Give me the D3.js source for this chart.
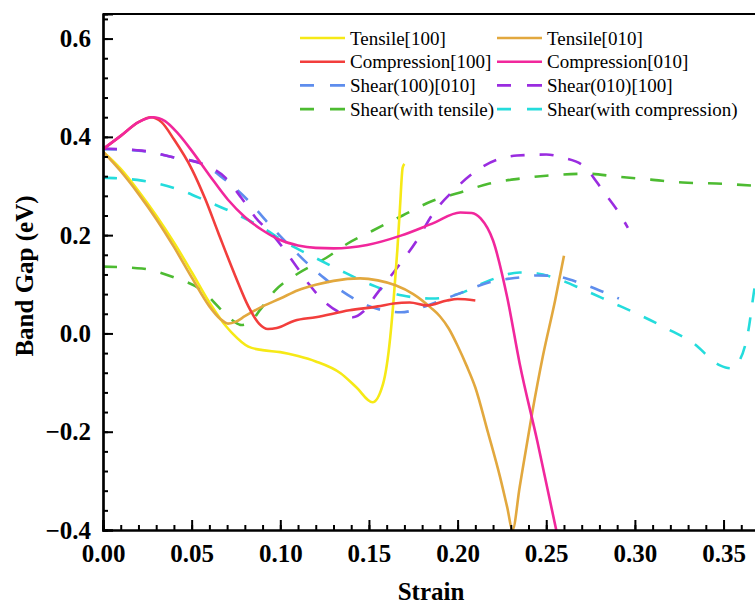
<!DOCTYPE html>
<html>
<head>
<meta charset="utf-8">
<script src="https://cdn.jsdelivr.net/npm/d3@7"></script>
<style>
  html, body { margin: 0; padding: 0; background: #fff; overflow: hidden; }
  svg { display: block; }
</style>
</head>
<body>
<svg id="chart" width="755" height="607"></svg>
<script>
// ---------------- data ----------------
const seriesNames = [
  "Tensile[100]", "Tensile[010]",
  "Compression[100]", "Compression[010]",
  "Shear(100)[010]", "Shear(010)[100]",
  "Shear(with tensile)", "Shear(with compression)"
];

const tensile100X = [0, 0.01, 0.02, 0.03, 0.04, 0.05, 0.06, 0.07, 0.073, 0.082, 0.09, 0.10, 0.11, 0.12, 0.134, 0.143, 0.152, 0.158, 0.162, 0.164, 0.166, 0.1675, 0.169, 0.170];
const tensile100Y = [0.37, 0.335, 0.29, 0.24, 0.185, 0.125, 0.063, 0.012, 0.0, -0.027, -0.034, -0.038, -0.046, -0.057, -0.081, -0.11, -0.14, -0.102, -0.008, 0.073, 0.169, 0.256, 0.337, 0.345];

const tensile010X = [0, 0.01, 0.02, 0.03, 0.04, 0.05, 0.06, 0.066, 0.0705, 0.075, 0.08, 0.09, 0.10, 0.11, 0.12, 0.13, 0.145, 0.155, 0.165, 0.175, 0.185, 0.19, 0.195, 0.20, 0.205, 0.21, 0.217, 0.224, 0.228, 0.231, 0.235, 0.242, 0.248, 0.255, 0.26];
const tensile010Y = [0.37, 0.33, 0.284, 0.233, 0.176, 0.114, 0.055, 0.03, 0.02, 0.024, 0.035, 0.055, 0.071, 0.088, 0.099, 0.107, 0.112, 0.108, 0.098, 0.08, 0.052, 0.035, 0.01, -0.025, -0.065, -0.11, -0.2, -0.293, -0.354, -0.4, -0.313, -0.163, -0.048, 0.067, 0.158];

const compression100X = [0, 0.01, 0.02, 0.027, 0.033, 0.04, 0.05, 0.0575, 0.065, 0.0745, 0.082, 0.088, 0.093, 0.098, 0.108, 0.12, 0.139, 0.155, 0.164, 0.173, 0.183, 0.194, 0.20, 0.21];
const compression100Y = [0.375, 0.402, 0.43, 0.44, 0.43, 0.395, 0.335, 0.275, 0.205, 0.118, 0.055, 0.02, 0.009, 0.011, 0.026, 0.033, 0.047, 0.055, 0.061, 0.063, 0.057, 0.067, 0.07, 0.067];

const compression010X = [0, 0.01, 0.02, 0.028, 0.035, 0.042, 0.05, 0.06, 0.0705, 0.08, 0.09, 0.10, 0.11, 0.12, 0.13, 0.149, 0.168, 0.186, 0.2015, 0.208, 0.213, 0.22, 0.228, 0.235, 0.245, 0.258];
const compression010Y = [0.375, 0.402, 0.43, 0.44, 0.432, 0.408, 0.372, 0.322, 0.272, 0.237, 0.21, 0.19, 0.179, 0.174, 0.173, 0.18, 0.199, 0.224, 0.246, 0.245, 0.234, 0.189, 0.073, -0.061, -0.22, -0.44];

const shear100X = [0, 0.02, 0.04, 0.056, 0.067, 0.082, 0.093, 0.104, 0.116, 0.125, 0.134, 0.149, 0.158, 0.168, 0.175, 0.183, 0.20, 0.218, 0.235, 0.245, 0.254, 0.271, 0.287, 0.291];
const shear100Y = [0.375, 0.372, 0.358, 0.345, 0.318, 0.27, 0.225, 0.183, 0.14, 0.112, 0.088, 0.057, 0.047, 0.043, 0.047, 0.057, 0.08, 0.104, 0.114, 0.118, 0.117, 0.1, 0.077, 0.071];

const shear010X = [0, 0.022, 0.04, 0.056, 0.069, 0.078, 0.086, 0.097, 0.108, 0.116, 0.126, 0.135, 0.141, 0.147, 0.1545, 0.166, 0.177, 0.186, 0.1975, 0.213, 0.2335, 0.25, 0.26, 0.271, 0.282, 0.293, 0.296];
const shear010Y = [0.376, 0.372, 0.358, 0.345, 0.317, 0.276, 0.236, 0.195, 0.142, 0.101, 0.061, 0.04, 0.033, 0.045, 0.081, 0.134, 0.189, 0.243, 0.29, 0.337, 0.362, 0.364, 0.357, 0.341, 0.29, 0.234, 0.215];

const shearTensileX = [0, 0.022, 0.04, 0.056, 0.067, 0.074, 0.078, 0.083, 0.088, 0.097, 0.11, 0.126, 0.138, 0.152, 0.169, 0.186, 0.2015, 0.218, 0.235, 0.25, 0.273, 0.29, 0.309, 0.327, 0.346, 0.37];
const shearTensileY = [0.136, 0.132, 0.114, 0.087, 0.047, 0.024, 0.017, 0.022, 0.045, 0.087, 0.122, 0.154, 0.183, 0.209, 0.24, 0.27, 0.287, 0.305, 0.315, 0.321, 0.325, 0.319, 0.313, 0.307, 0.305, 0.30];

const shearCompX = [0, 0.022, 0.045, 0.058, 0.0745, 0.09, 0.104, 0.118, 0.134, 0.152, 0.169, 0.186, 0.201, 0.218, 0.235, 0.245, 0.254, 0.271, 0.287, 0.303, 0.318, 0.333, 0.348, 0.354, 0.359, 0.364, 0.367, 0.371];
const shearCompY = [0.317, 0.311, 0.29, 0.27, 0.244, 0.215, 0.183, 0.157, 0.128, 0.098, 0.077, 0.071, 0.081, 0.108, 0.124, 0.122, 0.114, 0.089, 0.063, 0.037, 0.01, -0.02, -0.065, -0.071, -0.055, 0.006, 0.081, 0.17];

const xTickValues = [0, 0.05, 0.10, 0.15, 0.20, 0.25, 0.30, 0.35];
const xTickLabels = ["0.00", "0.05", "0.10", "0.15", "0.20", "0.25", "0.30", "0.35"];
const yTickValues = [-0.4, -0.2, 0.0, 0.2, 0.4, 0.6];
const yTickLabels = ["\u22120.4", "\u22120.2", "0.0", "0.2", "0.4", "0.6"];

const seriesColors = ["#f6e916", "#e2a83e", "#f23e3c", "#f1279c", "#5e8ded", "#9a2ce0", "#4dbb31", "#24dcdc"];
const seriesDashed = [false, false, false, false, true, true, true, true];

// ---------------- build ----------------
const seriesX = [tensile100X, tensile010X, compression100X, compression010X, shear100X, shear010X, shearTensileX, shearCompX];
const seriesY = [tensile100Y, tensile010Y, compression100Y, compression010Y, shear100Y, shear010Y, shearTensileY, shearCompY];
const series = seriesNames.map((name, i) => ({
  name, color: seriesColors[i], dashed: seriesDashed[i],
  points: seriesX[i].map((xv, j) => ({ x: xv, y: seriesY[i][j] }))
}));

const svg = d3.select("#chart");
const mLeft = 103, mRight = 759, mTop = 14, mBottom = 530;

const x = d3.scaleLinear().domain([0, 0.37]).range([mLeft, mRight]);
const y = d3.scaleLinear().domain([-0.4, 0.65]).range([mBottom, mTop]);

svg.append("defs").append("clipPath").attr("id", "plotclip")
  .append("rect").attr("x", mLeft).attr("y", mTop).attr("width", mRight - mLeft).attr("height", mBottom - mTop);

const line = d3.line().x(d => x(d.x)).y(d => y(d.y)).curve(d3.curveMonotoneX);

const plot = svg.append("g").attr("clip-path", "url(#plotclip)");
const order = [6, 7, 4, 5, 0, 1, 2, 3];
order.forEach(i => {
  const s = series[i];
  plot.append("path")
    .datum(s.points)
    .attr("d", line)
    .attr("fill", "none")
    .attr("stroke", s.color)
    .attr("stroke-width", 2.6)
    .attr("stroke-dasharray", s.dashed ? "14,15" : null)
    .attr("stroke-linecap", "butt")
    .attr("stroke-linejoin", "round");
});

// axes
const fontFamily = "'Liberation Serif', 'Times New Roman', serif";

const xMinor = d3.range(0, 0.3701, 0.01).map(v => +v.toFixed(2));
const yMinor = d3.range(-0.4, 0.6401, 0.04).map(v => +v.toFixed(2));

const gxMinor = svg.append("g").attr("transform", `translate(0,${mBottom})`)
  .call(d3.axisBottom(x).tickValues(xMinor).tickSize(-5).tickFormat(""));
const gx = svg.append("g").attr("transform", `translate(0,${mBottom})`)
  .call(d3.axisBottom(x).tickValues(xTickValues).tickSize(-10).tickPadding(14)
    .tickFormat((d, i) => xTickLabels[i]));

const gyMinor = svg.append("g").attr("transform", `translate(${mLeft},0)`)
  .call(d3.axisLeft(y).tickValues(yMinor).tickSize(-5).tickFormat(""));
const gy = svg.append("g").attr("transform", `translate(${mLeft},0)`)
  .call(d3.axisLeft(y).tickValues(yTickValues).tickSize(-10).tickPadding(12)
    .tickFormat((d, i) => yTickLabels[i]));

[gxMinor, gx, gyMinor, gy].forEach(g => {
  g.selectAll(".domain").attr("stroke", "#000").attr("stroke-width", 2.2);
  g.selectAll(".tick line").attr("stroke", "#000").attr("stroke-width", 2);
  g.selectAll("text").attr("font-family", fontFamily).attr("font-weight", "bold")
    .attr("font-size", 25).attr("fill", "#000");
});

// top / right frame lines
svg.append("line").attr("x1", mLeft).attr("x2", mRight).attr("y1", mTop).attr("y2", mTop)
  .attr("stroke", "#000").attr("stroke-width", 2.2);
svg.append("line").attr("x1", mRight).attr("x2", mRight).attr("y1", mTop).attr("y2", mBottom)
  .attr("stroke", "#000").attr("stroke-width", 2.2);

// axis titles
svg.append("text")
  .attr("x", (mLeft + mRight) / 2).attr("y", 600)
  .attr("text-anchor", "middle")
  .attr("font-family", fontFamily).attr("font-weight", "bold").attr("font-size", 25)
  .text("Strain");

svg.append("text")
  .attr("transform", `translate(33,${(mTop + mBottom) / 2 + 4}) rotate(-90)`)
  .attr("text-anchor", "middle")
  .attr("font-family", fontFamily).attr("font-weight", "bold").attr("font-size", 25)
  .text("Band Gap (eV)");

// legend
const legend = svg.append("g");
const colX = [300, 497];
series.forEach((s, i) => {
  const col = i % 2, row = Math.floor(i / 2);
  const ly = 38 + row * 23.7;
  const lx = colX[col];
  legend.append("line")
    .attr("x1", lx).attr("x2", lx + 45).attr("y1", ly).attr("y2", ly)
    .attr("stroke", s.color).attr("stroke-width", 2.6)
    .attr("stroke-dasharray", s.dashed ? "14,16,15" : null);
  legend.append("text")
    .attr("x", lx + 50).attr("y", ly + 6.5)
    .attr("font-family", fontFamily).attr("font-size", 19).attr("fill", "#000")
    .text(s.name);
});
</script>
</body>
</html>
